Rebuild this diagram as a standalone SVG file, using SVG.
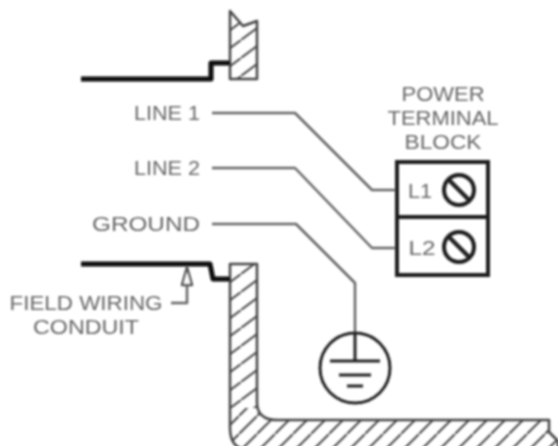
<svg xmlns="http://www.w3.org/2000/svg" width="558" height="446" viewBox="0 0 558 446">
<style>
text{font-family:"Liberation Sans",Arial,sans-serif;font-size:20px;fill:#666;text-anchor:middle}
.outline{fill:none;stroke:#444;stroke-width:2.5;stroke-linejoin:round}
.conduit{fill:none;stroke:#0c0c0c;stroke-width:5;stroke-linejoin:round}
.lead{fill:none;stroke:#666;stroke-width:2.5;stroke-linejoin:round}
.dark{fill:none;stroke:#1c1c1c;stroke-width:4}
.sym{fill:none;stroke:#222;stroke-width:3}
.screw{fill:none;stroke:#1c1c1c;stroke-width:4}
</style>
<defs>
<pattern id="hatchWall" width="24" height="18" patternUnits="userSpaceOnUse" patternTransform="translate(1 4)">
<path d="M-4 21L28 -3" stroke="#444" stroke-width="2" fill="none"/>
</pattern>
<pattern id="hatchBase" width="18" height="18" patternUnits="userSpaceOnUse" patternTransform="translate(5 2)">
<path d="M-2 20L20 -2" stroke="#444" stroke-width="2" fill="none"/>
</pattern>
<clipPath id="lowerClip"><path d="M230 264H257V403Q257 420 278 420H549V432L558 441V450H250Q230 450 230 428Z"/></clipPath>
<filter id="soft" x="-5%" y="-5%" width="110%" height="110%"><feGaussianBlur stdDeviation="0.85"/></filter>
</defs>
<rect width="558" height="446" fill="#fff"/>
<g filter="url(#soft)">
<g id="upper-wall">
<path d="M230 11L243 26L257 21V79H230Z" fill="url(#hatchWall)"/>
<path class="outline" d="M230 11L243 26L257 21V79H230Z"/>
<path class="conduit" d="M81 79H211V63H230"/>
</g>
<g id="lower-wall">
<g clip-path="url(#lowerClip)">
<rect x="228" y="262" width="32" height="146" fill="url(#hatchWall)"/>
<rect x="228" y="408" width="332" height="42" fill="url(#hatchBase)"/>
</g>
<path class="outline" d="M230 264H257V403Q257 420 278 420H549V432L558 441V450H250Q230 450 230 428Z"/>
<path class="conduit" d="M81 264H210L213 279H230"/>
</g>
<g id="connectors">
<path class="lead" d="M212 113H295L372 190H397"/>
<path class="lead" d="M212 168H295L372 248H397"/>
<path class="lead" d="M212 224H296L355 283V333"/>
<path class="lead" d="M171 303H187V286"/>
<path d="M187 267L182 285H192Z" fill="#fff" stroke="#555" stroke-width="2.5" stroke-linejoin="round"/>
</g>
<g id="terminal-block">
<rect class="dark" x="397" y="162" width="91" height="113"/>
<path class="dark" d="M397 217H488"/>
<circle class="screw" cx="459" cy="190" r="15"/>
<path class="screw" d="M449 180L469 200"/>
<circle class="screw" cx="459" cy="247" r="15"/>
<path class="screw" d="M449 237L469 257"/>
<text x="420" y="198" textLength="24" lengthAdjust="spacingAndGlyphs">L1</text>
<text x="422" y="255" textLength="27" lengthAdjust="spacingAndGlyphs">L2</text>
</g>
<g id="ground-symbol">
<circle class="sym" cx="355" cy="368" r="35"/>
<path class="sym" d="M355 333V361M330 361H380M339 375H371M347 386H363"/>
</g>
<g id="labels">
<text x="167" y="120" textLength="66" lengthAdjust="spacingAndGlyphs">LINE 1</text>
<text x="167" y="175" textLength="66" lengthAdjust="spacingAndGlyphs">LINE 2</text>
<text x="146" y="231" textLength="108" lengthAdjust="spacingAndGlyphs">GROUND</text>
<text x="86" y="310" textLength="153" lengthAdjust="spacingAndGlyphs">FIELD WIRING</text>
<text x="86" y="334" textLength="106" lengthAdjust="spacingAndGlyphs">CONDUIT</text>
<text x="443" y="101" textLength="83" lengthAdjust="spacingAndGlyphs">POWER</text>
<text x="443" y="125" textLength="111" lengthAdjust="spacingAndGlyphs">TERMINAL</text>
<text x="443" y="149" textLength="77" lengthAdjust="spacingAndGlyphs">BLOCK</text>
</g>
</g>
</svg>
